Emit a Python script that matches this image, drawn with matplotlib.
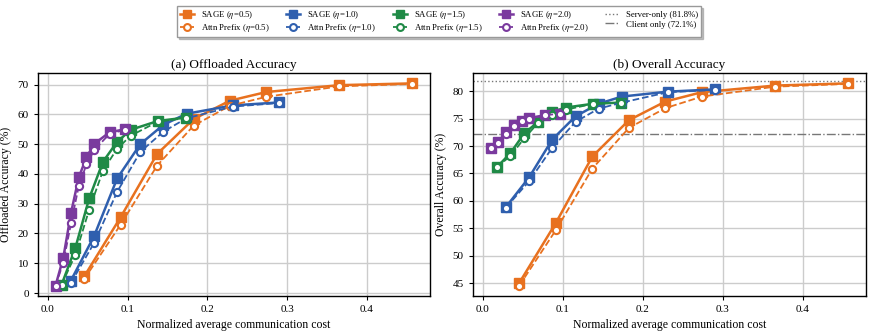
import numpy as np
import matplotlib
matplotlib.use("Agg")
import matplotlib.pyplot as plt

plt.rcParams["font.family"] = ["Liberation Serif", "DejaVu Serif"]
plt.rcParams["mathtext.fontset"] = "stix"

# normalized communication cost (shared by SAGE / Attn Prefix)
cost_05 = [0.0457, 0.0914, 0.1371, 0.1828, 0.2285, 0.2742, 0.3656, 0.457]
cost_10 = [0.029, 0.058, 0.087, 0.116, 0.145, 0.174, 0.232, 0.290]
cost_15 = [0.0173, 0.0346, 0.0519, 0.0692, 0.0865, 0.1038, 0.1384, 0.173]
cost_20 = [0.0097, 0.0194, 0.0291, 0.0388, 0.0485, 0.0582, 0.0776, 0.097]

# (a) offloaded accuracy
off_sage_05 = [5.6, 25.5, 46.7, 58.4, 64.6, 67.5, 69.8, 70.4]
off_attn_05 = [4.7, 23.0, 42.8, 56.2, 62.9, 65.9, 69.4, 70.2]
off_sage_10 = [4.2, 19.1, 38.5, 50.0, 56.5, 60.2, 63.0, 64.0]
off_attn_10 = [3.4, 16.8, 34.0, 47.4, 54.2, 58.7, 62.6, 63.8]
off_sage_15 = [2.8, 15.2, 31.8, 44.1, 50.6, 54.8, 57.8, 58.9]
off_attn_15 = [2.8, 12.9, 28.0, 41.1, 48.3, 52.8, 57.6, 58.7]
off_sage_20 = [2.5, 11.8, 26.9, 38.8, 45.6, 50.1, 54.0, 55.0]
off_attn_20 = [2.5, 10.2, 23.4, 35.9, 43.2, 48.0, 53.5, 54.8]

# (b) overall accuracy
all_sage_05 = [45.1, 56.0, 68.1, 74.7, 78.1, 79.8, 81.0, 81.4]
all_attn_05 = [44.6, 54.7, 65.9, 73.3, 76.9, 79.0, 80.8, 81.3]
all_sage_10 = [58.9, 64.3, 71.2, 75.4, 77.7, 79.0, 79.9, 80.3]
all_attn_10 = [58.8, 63.6, 69.7, 74.4, 76.8, 77.9, 79.8, 80.2]
all_sage_15 = [66.1, 68.7, 72.3, 74.4, 76.2, 77.0, 77.7, 77.9]
all_attn_15 = [66.1, 68.2, 71.4, 74.2, 75.6, 76.6, 77.7, 77.9]
all_sage_20 = [69.6, 70.7, 72.5, 73.8, 74.6, 75.1, 75.6, 75.9]
all_attn_20 = [69.6, 70.6, 72.2, 73.6, 74.5, 74.9, 75.6, 75.9]

server_only = 81.8
client_only = 72.1

etas = ["0.5", "1.0", "1.5", "2.0"]
colors = ["#e8711f", "#2f5fae", "#1f8a46", "#7a3a9e"]
costs = [cost_05, cost_10, cost_15, cost_20]
off_sage = [off_sage_05, off_sage_10, off_sage_15, off_sage_20]
off_attn = [off_attn_05, off_attn_10, off_attn_15, off_attn_20]
all_sage = [all_sage_05, all_sage_10, all_sage_15, all_sage_20]
all_attn = [all_attn_05, all_attn_10, all_attn_15, all_attn_20]

fig = plt.figure(figsize=(8.73, 3.33), dpi=100)
ax1 = fig.add_axes([0.0432, 0.112, 0.4494, 0.668])
ax2 = fig.add_axes([0.5414, 0.112, 0.4506, 0.668])


def draw(ax, sage, attn):
    handles = []
    for eta, c, x, ys, ya in zip(etas, colors, costs, sage, attn):
        h1, = ax.plot(x, ys, "-", color=c, lw=1.8, marker="s", ms=6.8,
                      mfc=c, mec=c, mew=1.0, label=f"SAGE ($\\eta$={eta})", zorder=3)
        h2, = ax.plot(x, ya, "--", color=c, lw=1.3, marker="o", ms=5.2,
                      mfc="white", mec=c, mew=1.5, label=f"Attn Prefix ($\\eta$={eta})", zorder=4)
        handles += [h1, h2]
    ax.grid(True, color="#cccccc", lw=1.0)
    ax.set_axisbelow(True)
    ax.set_xlabel("Normalized average communication cost", fontsize=8.5)
    ax.tick_params(labelsize=8, length=3, width=0.8)
    for s in ax.spines.values():
        s.set_linewidth(1.0)
    return handles


handles = draw(ax1, off_sage, off_attn)
ax1.set_title("(a) Offloaded Accuracy", fontsize=9.5, pad=4)
ax1.set_ylabel("Offloaded Accuracy (%)", fontsize=8.5)
ax1.set_yticks(np.arange(0, 71, 10))

draw(ax2, all_sage, all_attn)
hs = ax2.axhline(server_only, color="#777777", ls=":", lw=1.0, label="Server-only (81.8%)")
hc = ax2.axhline(client_only, color="#777777", ls="-.", lw=1.0, label="Client only (72.1%)")
ax2.set_title("(b) Overall Accuracy", fontsize=9.5, pad=4)
ax2.set_ylabel("Overall Accuracy (%)", fontsize=8.5)
ax2.set_yticks(np.arange(45, 81, 5))

for ax in (ax1, ax2):
    ax.set_xticks([0.0, 0.1, 0.2, 0.3, 0.4])

fig.legend(handles + [hs, hc], [h.get_label() for h in handles + [hs, hc]],
           loc="upper center", bbox_to_anchor=(0.503, 0.995), ncol=5, fontsize=6.3,
           frameon=True, fancybox=False, edgecolor="#999999",
           shadow={"color": "#888888", "alpha": 0.5, "ox": 1.5, "oy": -1.5},
           handlelength=1.6, columnspacing=1.9, borderpad=0.3, labelspacing=0.2,
           handletextpad=0.8, markerscale=0.95)

fig.savefig("out.png", dpi=100)
